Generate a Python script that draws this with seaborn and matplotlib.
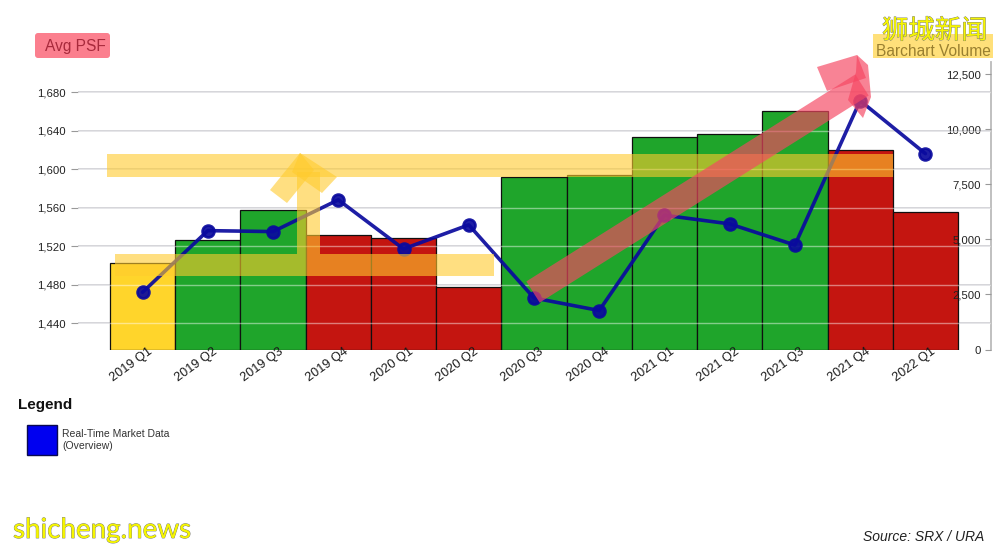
import matplotlib
matplotlib.use("Agg")
import matplotlib.pyplot as plt
import matplotlib.patheffects as pe
from matplotlib.patches import FancyBboxPatch, Polygon, Rectangle
from matplotlib.ticker import FuncFormatter
from matplotlib.transforms import ScaledTranslation
import pandas as pd
import seaborn as sns

quarters = ["2019 Q1", "2019 Q2", "2019 Q3", "2019 Q4", "2020 Q1", "2020 Q2", "2020 Q3",
            "2020 Q4", "2021 Q1", "2021 Q2", "2021 Q3", "2021 Q4", "2022 Q1"]
volume = [3930, 4980, 6340, 5200, 5070, 2840, 7840, 7930, 9660, 9800, 10840, 9070, 6250]
avg_psf = [1472, 1536, 1535, 1568, 1517, 1542, 1466, 1453, 1552, 1543, 1521, 1671, 1616]
bar_status = ["flat", "up", "up", "down", "down", "down", "up", "up", "up", "up", "up", "down", "down"]
status_colors = {"flat": "#FFD52B", "up": "#1FA52B", "down": "#C41510"}
psf_ticks = [1440, 1480, 1520, 1560, 1600, 1640, 1680]
volume_ticks = [0, 2500, 5000, 7500, 10000, 12500]

YELLOW = "#FFCB2D"
PINK = "#F64662"

sns.set_theme(style="white")
plt.rcParams["font.family"] = ["Liberation Sans", "Noto Sans CJK SC", "DejaVu Sans"]

df = pd.DataFrame({"quarter": quarters, "volume": volume, "psf": avg_psf, "status": bar_status})

W, H = 1001, 550
fig = plt.figure(figsize=(W / 100, H / 100), dpi=100, facecolor="white")

# three stacked axes: grid at the back, then bars, then the line
ax = fig.add_axes([78 / W, (H - 349.5) / H, 913 / W, 287.5 / H])
ax_bar = ax.twinx()
ax_line = ax.twinx()
ax.set_zorder(1)
ax_bar.set_zorder(2)
ax_line.set_zorder(3)
ax_bar.patch.set_visible(False)
ax_line.patch.set_visible(False)

sns.barplot(data=df, x="quarter", y="volume", hue="status", palette=status_colors, dodge=False,
            width=1, saturation=1, edgecolor="#101010", linewidth=0.9, legend=False, ax=ax_bar)
sns.pointplot(data=df, x="quarter", y="psf", color="#0A0A9E", markers="o", markersize=8.5,
              linewidth=2.6, errorbar=None, ax=ax_line)
for line in ax_line.lines:
    line.set_alpha(0.92)

for a in (ax, ax_line):
    a.set_ylim(1412.5, 1711.2)
    a.set_yticks(psf_ticks)
ax_bar.set_ylim(0, 13068)
for a in (ax, ax_bar, ax_line):
    a.set_xlim(-0.99, 13.006)
    a.set_xlabel("")
    a.set_ylabel("")
    for s in a.spines.values():
        s.set_visible(False)

for v in psf_ticks:
    ax.axhline(v, color="#C6C6CC", lw=1.1, zorder=0)
    ax_line.axhline(v, color="white", lw=1, alpha=0.45, zorder=1)

ax.yaxis.set_major_formatter(FuncFormatter(lambda v, _: f"{v:,.0f}"))
ax.tick_params(axis="y", left=True, length=5, width=0.8, color="#999999", pad=4,
               labelsize=8.2, labelcolor="#222222")
ax.tick_params(axis="x", bottom=False, labelbottom=False)

ax_bar.set_axisbelow(False)
ax_bar.spines["right"].set_visible(True)
ax_bar.spines["right"].set_color("#BBBBBB")
ax_bar.spines["right"].set_linewidth(1.3)
ax_bar.set_yticks(volume_ticks)
ax_bar.yaxis.set_major_formatter(FuncFormatter(lambda v, _: f"{v:,.0f}"))
ax_bar.tick_params(axis="y", right=True, direction="in", length=4, width=0.8, color="#999999",
                   pad=-7, labelsize=8.2, labelcolor="#222222")
for t in ax_bar.get_yticklabels():
    t.set_ha("right")
ax_bar.tick_params(axis="x", bottom=False, labelbottom=False)

ax_line.xaxis.set_visible(True)
ax_line.set_axisbelow(False)
ax_line.tick_params(axis="y", left=False, right=False, labelleft=False, labelright=False)
ax_line.set_xticks(range(len(quarters)))
ax_line.set_xticklabels(quarters)
ax_line.tick_params(axis="x", bottom=False, labelbottom=True, labelsize=9.2, labelcolor="#1A1A1A", pad=0)
# labels sit right of the bar centre and poke up into the bars
shift = ScaledTranslation(5 / 100, 12 / 100, fig.dpi_scale_trans)
for t in ax_line.get_xticklabels():
    t.set_rotation(36)
    t.set_rotation_mode("anchor")
    t.set_ha("right")
    t.set_va("top")
    t.set_transform(t.get_transform() + shift)

# hand-drawn highlights and page text, placed in picture pixels
over = fig.add_axes([0, 0, 1, 1], zorder=10)
over.set_xlim(0, W)
over.set_ylim(H, 0)
over.axis("off")

over.add_patch(Rectangle((107, 154), 786, 23, color=YELLOW, alpha=0.6, lw=0))
over.add_patch(Rectangle((115, 254), 379, 22, color=YELLOW, alpha=0.6, lw=0))
over.add_patch(Rectangle((297, 172), 23, 82, color=YELLOW, alpha=0.6, lw=0))
over.add_patch(Polygon([(270, 190), (300, 153), (314, 170), (287, 203)], color=YELLOW, alpha=0.6, lw=0))
over.add_patch(Polygon([(300, 153), (337, 177), (322, 193), (292, 172)], color=YELLOW, alpha=0.6, lw=0))

over.plot([533, 862], [292, 85], color=PINK, alpha=0.67, lw=18, solid_capstyle="butt")
over.add_patch(Polygon([(817, 67), (857, 55), (866, 78), (827, 91)], color=PINK, alpha=0.67, lw=0))
over.add_patch(Polygon([(857, 55), (868, 65), (871, 97), (863, 118), (848, 100), (856, 72)],
                       color=PINK, alpha=0.67, lw=0))

over.add_patch(FancyBboxPatch((35, 33), 75, 25, boxstyle="round,pad=0,rounding_size=3",
                              color="#FB7F8E", lw=0))
over.text(45, 47, "Avg PSF", fontsize=11.2, color="#A82A3C", va="center", ha="left")
over.add_patch(Rectangle((873, 34), 120, 24, color="#FFE07A", lw=0))
over.text(876, 51, "Barchart Volume", fontsize=11.2, color="#9A8030", va="center", ha="left")

outline = [pe.withStroke(linewidth=0.6, foreground="#777777")]
over.text(882, 31, "狮城新闻", fontsize=19, color="#F6F600", va="center", ha="left",
          family=["Noto Sans CJK SC", "DejaVu Sans"], path_effects=outline)
over.text(13, 530, "shicheng.news", fontsize=20, color="#F6F600", va="center", ha="left",
          family=["Lato", "DejaVu Sans"], path_effects=outline)

over.text(18, 405, "Legend", fontsize=11, fontweight="bold", color="#111111", va="center", ha="left")
over.add_patch(Rectangle((27, 425), 30, 30, facecolor="#0000F0", edgecolor="#0A0A50", lw=1))
over.text(62, 434, "Real-Time Market Data", fontsize=7.5, color="#333333", va="center", ha="left")
over.text(62, 446, "(Overview)", fontsize=7.5, color="#333333", va="center", ha="left")
over.text(863, 537, "Source: SRX / URA", fontsize=10, style="italic", color="#222222", va="center", ha="left")

fig.savefig("out.png", dpi=100)
plt.close(fig)
